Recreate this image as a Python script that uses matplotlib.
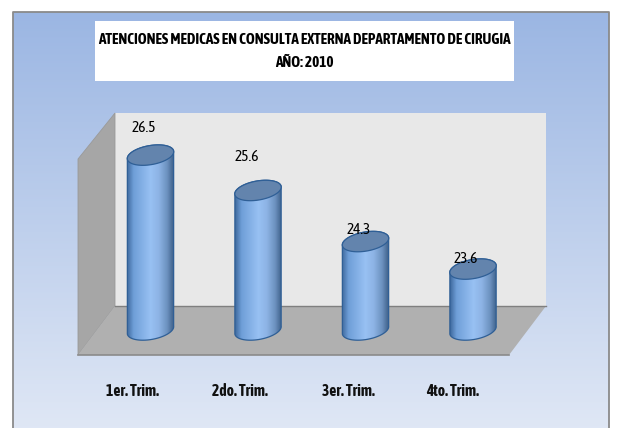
import matplotlib
matplotlib.use("Agg")
import matplotlib.pyplot as plt
import numpy as np
from matplotlib.patches import PathPatch, Polygon, Rectangle
from matplotlib.path import Path

W, H = 617, 428
plt.rcParams["font.family"] = ["Asap Condensed", "Open Sans", "DejaVu Sans"]

trimestres = ["1er. Trim.", "2do. Trim.", "3er. Trim.", "4to. Trim."]
atenciones = [26.5, 25.6, 24.3, 23.6]
titulo = "ATENCIONES MEDICAS EN CONSULTA EXTERNA DEPARTAMENTO DE CIRUGIA\nAÑO: 2010"

# desplazamiento de las etiquetas respecto a la tapa del cilindro (px)
label_dx = [-7, -11, -7, -7]
label_dy = [27, 33, 12, 10]
cat_dx = [-18, -18, -17, -20]

fig = plt.figure(figsize=(W / 100, H / 100), dpi=100, facecolor="white")

# capa de fondo en pixeles
bg = fig.add_axes([0, 0, 1, 1])
bg.axis("off")
grad = np.linspace(0, 1, 256).reshape(-1, 1)
top = np.array([0.608, 0.714, 0.890])
bottom = np.array([0.875, 0.906, 0.961])
bg.imshow(top + (bottom - top) * grad[..., None], extent=[13, 609, 428, 12], aspect="auto", zorder=0)
bg.set_xlim(0, W)
bg.set_ylim(H, 0)
bg.plot([13, 13, 609, 609], [428, 12, 12, 428], color="#8a8a8a", lw=1.3, zorder=1)

bg.add_patch(Rectangle((95, 21), 419, 60, fc="white", ec="none", zorder=1))
bg.text(304, 51.5, titulo, ha="center", va="center", fontsize=10.9, weight="bold",
        linespacing=1.85, color="black", zorder=2)

# paredes y piso
bg.add_patch(Rectangle((115, 113), 431, 193, fc="#e8e8e8", ec="none", zorder=1))
bg.add_patch(Polygon([(78, 159), (115, 113), (115, 306), (78, 355)], fc="#a6a6a6", ec="#9a9a9a", lw=0.6, zorder=1))
bg.add_patch(Polygon([(115, 306), (546, 306), (509, 355), (78, 355)], fc="#b0b0b0", ec="none", zorder=1))
bg.plot([115, 546], [306, 306], color="#7f7f7f", lw=1, zorder=2)
bg.plot([78, 509], [355, 355], color="#8a8a8a", lw=1.2, zorder=2)

# ejes de datos: cada categoria son 107.5 px y cada unidad 39.3 px; la base de los cilindros es 22.05
x0, x1 = 96.75, 526.75
y0, y1 = 350.0, 134.5
base = 22.05
ax = fig.add_axes([x0 / W, 1 - y0 / H, (x1 - x0) / W, (y0 - y1) / H])
ax.patch.set_alpha(0)
ax.axis("off")
xlim = (-0.5, 3.5)
px_x = (xlim[1] - xlim[0]) / (x1 - x0)
px_y = 1 / 39.3
ylim = (base - 20 * px_y, base - 20 * px_y + (y0 - y1) * px_y)

a, b, tilt = 23.5, 9.5, np.deg2rad(10)
cmap = matplotlib.colors.LinearSegmentedColormap.from_list(
    "cil", [(0, "#3f6a9e"), (0.14, "#6f9fd8"), (0.5, "#98c1f3"), (0.68, "#8db3e5"), (0.86, "#6c91bf"), (1, "#3d5f88")])


def elipse(cx, cy, t):
    ex = a * np.cos(t) * np.cos(tilt) + b * np.sin(t) * np.sin(tilt)
    ey = a * np.cos(t) * np.sin(tilt) - b * np.sin(t) * np.cos(tilt)
    return cx + ex * px_x, cy + ey * px_y


for i, v in enumerate(atenciones):
    # cuerpo: mitad inferior de la base + mitad superior de la tapa
    bx, by = elipse(i, base, np.linspace(0, np.pi, 45))
    tx, ty = elipse(i, v, np.linspace(np.pi, 2 * np.pi, 45))
    verts = np.column_stack([np.r_[bx, tx], np.r_[by, ty]])
    body = PathPatch(Path(np.vstack([verts, verts[0]]), closed=True), fc="none", ec="#2f5f96", lw=0.9, zorder=3)
    ax.add_patch(body)
    im = ax.imshow(np.linspace(0, 1, 128).reshape(1, -1), cmap=cmap, aspect="auto",
                   extent=[i - a * px_x, i + a * px_x, ylim[0], v + 12 * px_y], zorder=2.5)
    im.set_clip_path(body)
    cx, cy = elipse(i, v, np.linspace(0, 2 * np.pi, 90))
    ax.fill(cx, cy, fc="#6384ad", ec="#2f5f96", lw=0.9, zorder=4)
    ax.annotate(f"{v}", (i, v), xytext=(label_dx[i] * 0.72, label_dy[i] * 0.72), textcoords="offset points",
                ha="center", va="center", fontsize=11, color="black", zorder=5)
    ax.annotate(trimestres[i], (i, base), xytext=(cat_dx[i] * 0.72, -61 * 0.72), textcoords="offset points",
                ha="center", va="center", fontsize=11.2, weight="bold", color="#111111",
                annotation_clip=False, zorder=5)

ax.set_xlim(*xlim)
ax.set_ylim(*ylim)
fig.savefig("out.png", dpi=100, facecolor="white")
